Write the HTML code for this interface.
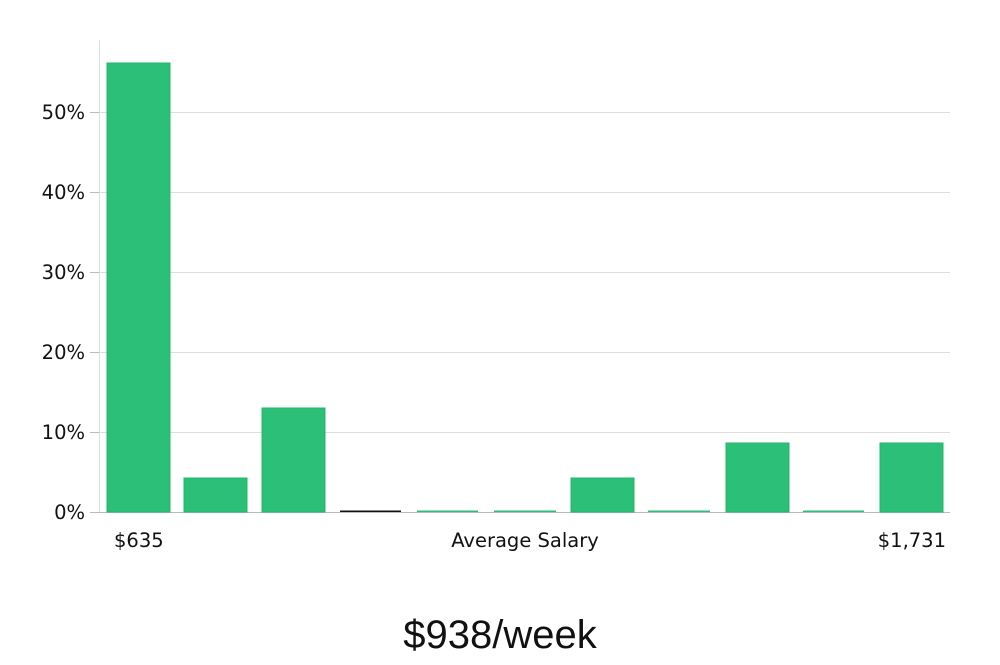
<!DOCTYPE html>
<html><head><style>
body{margin:0;background:#fff;}
svg text{font-family:"DejaVu Sans","Liberation Sans",sans-serif;}
</style></head><body>
<svg width="1000" height="660" viewBox="0 0 1000 660" xmlns="http://www.w3.org/2000/svg">
<g stroke="#dddddd" stroke-width="1">
<line x1="99" y1="112.5" x2="950" y2="112.5"/>
<line x1="99" y1="192.5" x2="950" y2="192.5"/>
<line x1="99" y1="272.5" x2="950" y2="272.5"/>
<line x1="99" y1="352.5" x2="950" y2="352.5"/>
<line x1="99" y1="432.5" x2="950" y2="432.5"/>
<line x1="99.5" y1="40" x2="99.5" y2="512"/>
</g>
<g stroke="#bbbbbb"><line x1="90" y1="512.5" x2="950" y2="512.5"/>
<line x1="90" y1="112.5" x2="99" y2="112.5"/><line x1="90" y1="192.5" x2="99" y2="192.5"/><line x1="90" y1="272.5" x2="99" y2="272.5"/><line x1="90" y1="352.5" x2="99" y2="352.5"/><line x1="90" y1="432.5" x2="99" y2="432.5"/></g>
<g fill="#2bbf78" stroke="#22b46c" stroke-width="1">
<rect x="107" y="63" width="63" height="449"/>
<rect x="184" y="478" width="63" height="34"/>
<rect x="262" y="408" width="63" height="104"/>
<rect x="571" y="478" width="63" height="34"/>
<rect x="726" y="443" width="63" height="69"/>
<rect x="880" y="443" width="63" height="69"/>
</g>
<rect x="340" y="510.5" width="61" height="1.5" fill="#111"/>
<g fill="#2bbf78">
<rect x="417" y="510.5" width="61" height="1.5"/>
<rect x="494" y="510.5" width="62" height="1.5"/>
<rect x="648" y="510.5" width="62" height="1.5"/>
<rect x="803" y="510.5" width="61" height="1.5"/>
</g>
<g font-size="19.5" fill="#111" text-anchor="end">
<text x="85" y="119">50%</text>
<text x="85" y="199">40%</text>
<text x="85" y="279">30%</text>
<text x="85" y="359">20%</text>
<text x="85" y="439">10%</text>
<text x="85" y="519">0%</text>
</g>
<g font-size="19.5" fill="#111">
<text x="114" y="547">$635</text>
<text x="525" y="547" text-anchor="middle">Average Salary</text>
<text x="946" y="547" text-anchor="end">$1,731</text>
</g>
<text x="500" y="648" text-anchor="middle" font-size="40" fill="#111" style="font-family:'Liberation Sans',sans-serif">$938/week</text>
</svg>
</body></html>
